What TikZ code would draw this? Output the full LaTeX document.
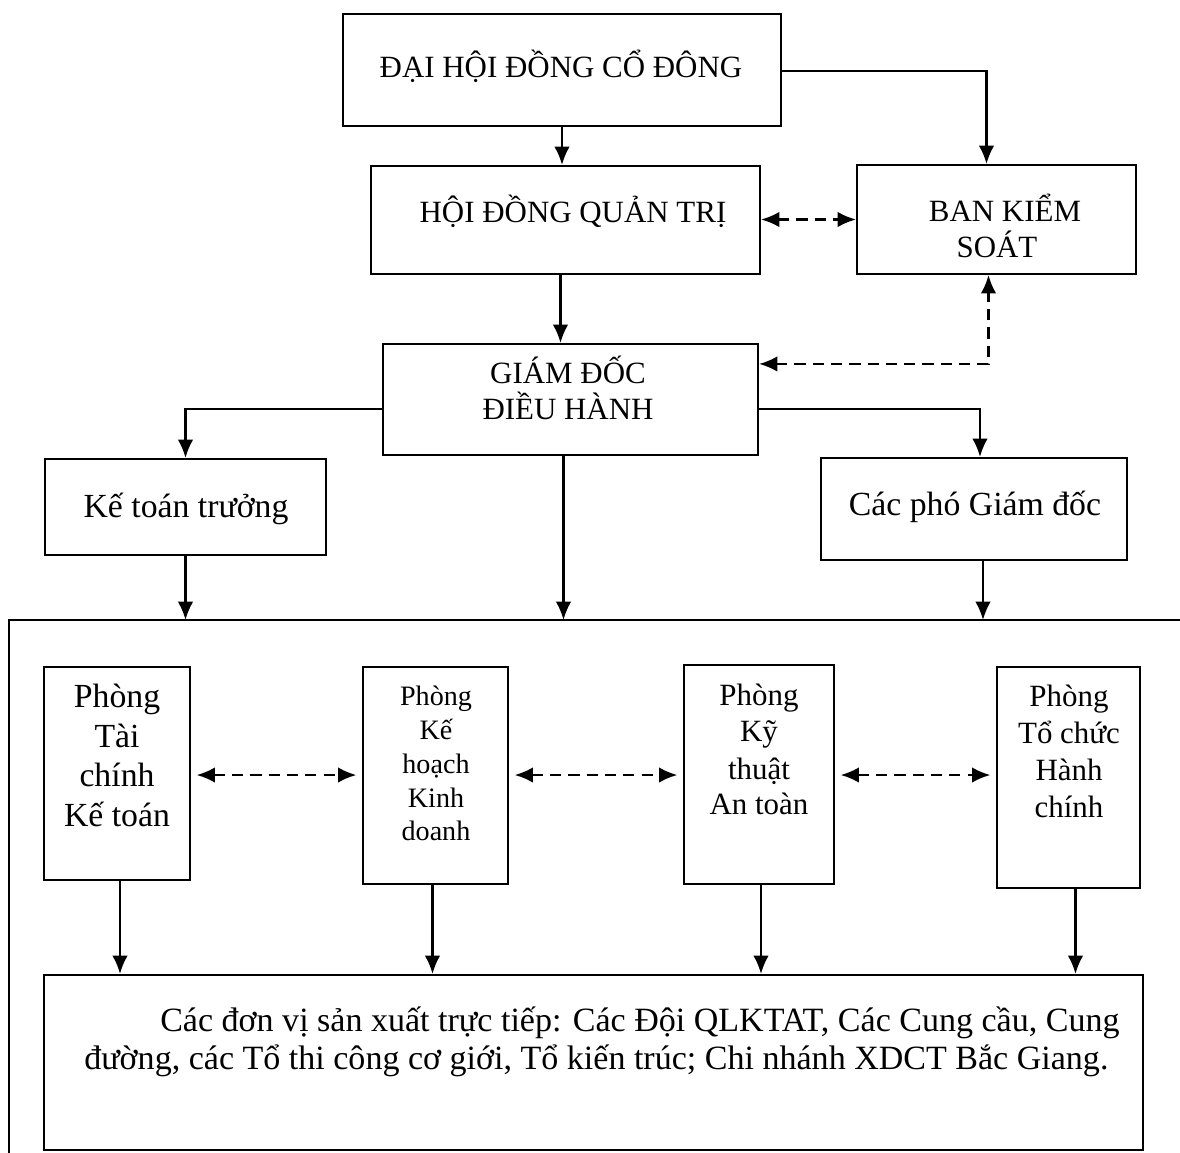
\documentclass[tikz,border=0pt]{standalone}
\usepackage{fontspec}
\setmainfont{Liberation Serif}
\usetikzlibrary{arrows.meta,calc}
\begin{document}
\begin{tikzpicture}[x=0.025cm,y=-0.025cm,
  box/.style={draw,line width=1.5pt,inner sep=0pt,rectangle},
  lbl/.style={anchor=base,inner sep=0pt,font=\fontsize{22}{27}\selectfont},
  lbls/.style={anchor=base,inner sep=0pt,font=\fontsize{24}{28}\selectfont},
  lbll/.style={anchor=base west,inner sep=0pt,font=\fontsize{24.2}{28}\selectfont},
  con/.style={line width=1.6pt},
  arr/.style={con,-{Latex[length=13pt,width=11pt]}},
  darr/.style={con,dash pattern=on 8pt off 5pt,{Latex[length=13pt,width=11pt]}-{Latex[length=13pt,width=11pt]}}
]
\useasboundingbox (0,0) rectangle (1180,1153);
\newcommand\pbox[5]{\node[box,minimum width={(#4-#2)*0.025cm},minimum height={(#5-#3)*0.025cm}] (#1) at ({(#2+#4)/2},{(#3+#5)/2}) {};}
% boxes
\pbox{dh}{343}{14}{781}{126}
\pbox{hd}{371}{166}{760}{274}
\pbox{bks}{857}{165}{1136}{274}
\pbox{gd}{383}{344}{758}{455}
\pbox{ktt}{45}{459}{326}{555}
\pbox{cpg}{821}{458}{1127}{560}
\pbox{pa}{44}{667}{190}{880}
\pbox{pb}{363}{667}{508}{884}
\pbox{pc}{684}{665}{834}{884}
\pbox{pd}{997}{667}{1140}{888}
\pbox{dv}{44}{975}{1143}{1150}
% outer frame
\coordinate (ftop) at (9,620);
\coordinate (fright) at (1180,620);
\coordinate (fbot) at (9,1153);
\draw[con] (fright) -- (ftop) -- (fbot);
% texts
\node[lbl] (dh-t) at (561,77) {ĐẠI HỘI ĐỒNG CỔ ĐÔNG};
\node[lbl] (hd-t) at (573,222) {HỘI ĐỒNG QUẢN TRỊ};
\node[lbl] (bks-t1) at (1005,221) {BAN KIỂM};
\node[lbl] (bks-t2) at (997,257) {SOÁT};
\node[lbl] (gd-t1) at (568,383) {GIÁM ĐỐC};
\node[lbl] (gd-t2) at (568,419) {ĐIỀU HÀNH};
\node[lbls] (ktt-t) at (186,517) {Kế toán trưởng};
\node[lbls] (cpg-t) at (975,515) {Các phó Giám đốc};
\node[lbls] (pa-t1) at (117,707) {Phòng};
\node[lbls] (pa-t2) at (117,747) {Tài};
\node[lbls] (pa-t3) at (117,786) {chính};
\node[lbls] (pa-t4) at (117,826) {Kế toán};
\begin{scope}[every node/.style={font=\fontsize{20}{24}\selectfont}]
\node[anchor=base,inner sep=0pt] (pb-t1) at (436,705) {Phòng};
\node[anchor=base,inner sep=0pt] (pb-t2) at (436,739) {Kế};
\node[anchor=base,inner sep=0pt] (pb-t3) at (436,773) {hoạch};
\node[anchor=base,inner sep=0pt] (pb-t4) at (436,807) {Kinh};
\node[anchor=base,inner sep=0pt] (pb-t5) at (436,840) {doanh};
\end{scope}
\node[lbl] (pc-t1) at (759,705) {Phòng};
\node[lbl] (pc-t2) at (759,741) {Kỹ};
\node[lbl] (pc-t3) at (759,779) {thuật};
\node[lbl] (pc-t4) at (759,814) {An toàn};
\node[lbl] (pd-t1) at (1069,706) {Phòng};
\node[lbl] (pd-t2) at (1069,743) {Tổ chức};
\node[lbl] (pd-t3) at (1069,780) {Hành};
\node[lbl] (pd-t4) at (1069,817) {chính};
\node[lbll] (dv-t1) at (160,1031) {Các đơn vị sản xuất trực tiếp: Các Đội QLKTAT, Các Cung cầu, Cung};
\node[lbll] (dv-t2) at (84,1069) {đường, các Tổ thi công cơ giới, Tổ kiến trúc; Chi nhánh XDCT Bắc Giang.};
% connectors
\draw[arr] (dh.south) -- (dh.south |- hd.north);
\draw[arr] ($(dh.north east)+(0,58)$) -| ($(bks.north)+(-10,0)$);
\draw[darr] (hd.east |- bks.west) -- (bks.west);
\draw[arr] ($(hd.south)+(-5,0)$) -- ($(hd.south |- gd.north)+(-5,0)$);
\draw[darr] ($(gd.north east)+(0,21)$) -| ($(bks.south)+(-8,0)$);
\draw[arr] ($(gd.north west)+(0,66)$) -| (ktt.north);
\draw[arr] ($(gd.north east)+(0,66)$) -| ($(cpg.north)+(6,0)$);
\draw[arr] ($(gd.south)+(-7,0)$) -- ($(gd.south |- ftop)+(-7,0)$);
\draw[arr] (ktt.south) -- (ktt.south |- ftop);
\draw[arr] ($(cpg.south)+(9,0)$) -- ($(cpg.south |- ftop)+(9,0)$);
\draw[darr,shorten <=4pt,shorten >=4pt] (pa.east |- 0,775) -- (pb.west |- 0,775);
\draw[darr,shorten <=4pt,shorten >=4pt] (pb.east |- 0,775) -- (pc.west |- 0,775);
\draw[darr,shorten <=4pt,shorten >=4pt] (pc.east |- 0,775) -- (pd.west |- 0,775);
\draw[arr] ($(pa.south)+(3,0)$) -- ($(pa.south |- dv.north)+(3,0)$);
\draw[arr] ($(pb.south)+(-3,0)$) -- ($(pb.south |- dv.north)+(-3,0)$);
\draw[arr] ($(pc.south)+(2,0)$) -- ($(pc.south |- dv.north)+(2,0)$);
\draw[arr] ($(pd.south)+(7,0)$) -- ($(pd.south |- dv.north)+(7,0)$);
\end{tikzpicture}
\end{document}
